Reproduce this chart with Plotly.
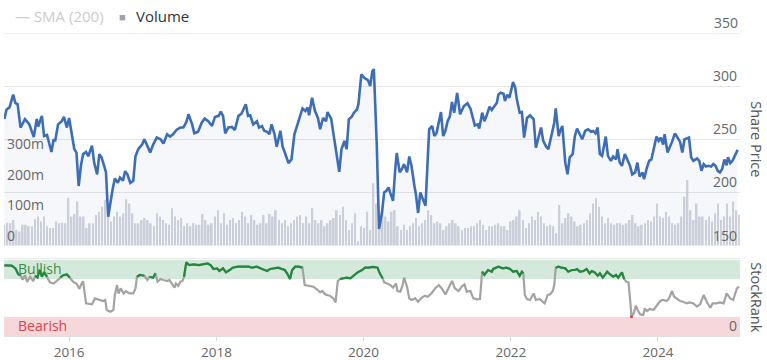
import numpy as np
import pandas as pd
import plotly.graph_objects as go

# ---------------- data ----------------
price_t = [2015.12, 2015.15, 2015.19, 2015.24, 2015.27, 2015.30, 2015.34, 2015.40, 2015.46, 2015.49,
           2015.52, 2015.56, 2015.58, 2015.63, 2015.66, 2015.70, 2015.72, 2015.76, 2015.79, 2015.81,
           2015.85, 2015.90, 2015.93, 2015.97, 2016.00, 2016.04, 2016.07, 2016.10, 2016.13, 2016.16,
           2016.19, 2016.23, 2016.26, 2016.31, 2016.34, 2016.38, 2016.41, 2016.44, 2016.48, 2016.50,
           2016.53, 2016.56, 2016.59, 2016.62, 2016.66, 2016.69, 2016.73, 2016.76, 2016.79, 2016.83,
           2016.87, 2016.90, 2016.94, 2016.99, 2017.02, 2017.06, 2017.10, 2017.14, 2017.19, 2017.24,
           2017.28, 2017.33, 2017.37, 2017.41, 2017.46, 2017.51, 2017.55, 2017.59, 2017.62, 2017.67,
           2017.70, 2017.75, 2017.80, 2017.84, 2017.89, 2017.94, 2017.98, 2018.03, 2018.06, 2018.09,
           2018.12, 2018.16, 2018.21, 2018.25, 2018.30, 2018.34, 2018.37, 2018.40, 2018.43, 2018.46,
           2018.50, 2018.55, 2018.58, 2018.62, 2018.65, 2018.69, 2018.72, 2018.75, 2018.79, 2018.82,
           2018.87, 2018.90, 2018.93, 2018.98, 2019.02, 2019.06, 2019.11, 2019.17, 2019.21, 2019.24,
           2019.26, 2019.30, 2019.34, 2019.38, 2019.41, 2019.45, 2019.49, 2019.51, 2019.56, 2019.60,
           2019.64, 2019.67, 2019.70, 2019.74, 2019.77, 2019.80, 2019.84, 2019.87, 2019.91, 2019.93,
           2019.97, 2020.01, 2020.06, 2020.09, 2020.12, 2020.14, 2020.18, 2020.21, 2020.25, 2020.28,
           2020.31, 2020.34, 2020.36, 2020.40, 2020.43, 2020.45, 2020.49, 2020.52, 2020.55, 2020.59,
           2020.62, 2020.65, 2020.69, 2020.71, 2020.74, 2020.77, 2020.80, 2020.84, 2020.87, 2020.89,
           2020.93, 2020.96, 2020.99, 2021.02, 2021.05, 2021.08, 2021.11, 2021.14, 2021.17, 2021.20,
           2021.23, 2021.27, 2021.31, 2021.36, 2021.41, 2021.45, 2021.48, 2021.51, 2021.55, 2021.57,
           2021.61, 2021.64, 2021.67, 2021.71, 2021.74, 2021.77, 2021.81, 2021.83, 2021.86, 2021.90,
           2021.92, 2021.95, 2021.98, 2022.03, 2022.06, 2022.08, 2022.12, 2022.15, 2022.18, 2022.22,
           2022.26, 2022.31, 2022.34, 2022.37, 2022.41, 2022.44, 2022.48, 2022.51, 2022.56, 2022.59,
           2022.61, 2022.65, 2022.67, 2022.70, 2022.74, 2022.77, 2022.80, 2022.84, 2022.87, 2022.90,
           2022.93, 2022.97, 2023.01, 2023.05, 2023.09, 2023.12, 2023.15, 2023.18, 2023.21, 2023.24,
           2023.27, 2023.29, 2023.32, 2023.36, 2023.39, 2023.43, 2023.45, 2023.48, 2023.51, 2023.55,
           2023.59, 2023.62, 2023.65, 2023.69, 2023.72, 2023.75, 2023.79, 2023.81, 2023.85, 2023.88,
           2023.91, 2023.95, 2023.98, 2024.01, 2024.04, 2024.07, 2024.09, 2024.13, 2024.16, 2024.19,
           2024.23, 2024.27, 2024.30, 2024.33, 2024.36, 2024.39, 2024.42, 2024.45, 2024.48, 2024.53,
           2024.56, 2024.59, 2024.62, 2024.65, 2024.68, 2024.72, 2024.75, 2024.78, 2024.81, 2024.84,
           2024.87, 2024.90, 2024.93, 2024.95, 2024.98, 2025.01, 2025.05, 2025.08]
price = [269, 278, 280, 292, 284, 283, 261, 269, 264, 258,
         252, 269, 262, 272, 253, 254, 248, 238, 250, 248,
         264, 267, 271, 261, 270, 253, 241, 237.5, 206, 225,
         236, 238, 234, 244, 228, 217, 236, 233, 222, 219,
         177, 191, 203, 213, 209, 214, 211, 220, 217, 209,
         211, 234, 241, 245, 250, 244, 237.5, 245, 251.6, 250,
         246, 254.7, 252.5, 254.7, 259, 261, 261, 266, 273.5, 264,
         255.6, 257, 265.6, 269.4, 267, 262.5, 271, 272, 276, 272,
         255.6, 261, 261.6, 258.7, 272, 274, 278, 283, 272, 272.5,
         264, 267, 261, 262.5, 258, 257, 254.7, 264, 254.7, 243,
         258, 243, 237.5, 227.5, 231, 254.7, 265.6, 279, 276.6, 280,
         272.5, 289, 276.6, 270, 259.4, 270, 267, 275.6, 269.4, 250,
         229.7, 219.3, 240.6, 248.4, 240.6, 268.8, 271.3, 275, 278, 282.8,
         311, 307.8, 305.6, 300, 314, 316, 244, 165.6, 181, 200,
         201.5, 204.7, 200, 192, 222, 237, 218.8, 222, 226.6, 218.8,
         233.8, 225, 206, 198.4, 180.6, 200, 194.4, 187.5, 231, 259.4,
         262.5, 253, 256, 267, 275.6, 253, 258, 267, 271.3, 285,
         275, 293.7, 273.5, 281, 283.8, 279, 272, 263, 264, 260,
         275, 267, 272, 280.7, 277.5, 281, 284.4, 292, 293.7, 292.8,
         286, 292, 289, 303.8, 298.5, 288, 275, 275.6, 251.6, 270,
         272.5, 268.8, 242, 250, 261, 248.4, 243, 240.6, 256, 265.6,
         279, 253, 257.8, 262.5, 228, 217, 233, 236, 253, 260,
         255.6, 250, 257.8, 259.4, 257, 257.8, 255.6, 261, 236, 234.4,
         245, 252.5, 234.4, 229.7, 233.8, 231, 240.6, 228, 225, 236,
         229.7, 225, 217, 218.8, 228, 215, 218.8, 212.5, 223.4, 229.7,
         231, 245, 252.5, 248.4, 251.6, 245, 254.7, 237.5, 242, 247.5,
         255.6, 250.6, 247.5, 237.5, 250, 250.6, 251.6, 233, 229.7, 232,
         229.7, 220.3, 226.6, 224.4, 225, 224.4, 226.6, 225, 220.3, 218.8,
         222, 231, 225.6, 233, 227.5, 229.7, 236, 240]

rank_t = [2015.12, 2015.22, 2015.27, 2015.31, 2015.34, 2015.37, 2015.40, 2015.43, 2015.47, 2015.51,
          2015.54, 2015.57, 2015.60, 2015.63, 2015.66, 2015.70, 2015.74, 2015.79, 2015.83, 2015.88,
          2015.92, 2015.97, 2016.01, 2016.06, 2016.10, 2016.14, 2016.17, 2016.19, 2016.23, 2016.28,
          2016.31, 2016.35, 2016.41, 2016.46, 2016.49, 2016.51, 2016.56, 2016.60, 2016.62, 2016.65,
          2016.67, 2016.70, 2016.74, 2016.77, 2016.82, 2016.87, 2016.90, 2016.92, 2016.96, 2017.02,
          2017.06, 2017.09, 2017.14, 2017.17, 2017.20, 2017.24, 2017.28, 2017.33, 2017.36, 2017.39,
          2017.43, 2017.45, 2017.48, 2017.51, 2017.54, 2017.56, 2017.59, 2017.63, 2017.69, 2017.76,
          2017.82, 2017.88, 2017.92, 2017.96, 2018.01, 2018.04, 2018.09, 2018.13, 2018.18, 2018.22,
          2018.29, 2018.37, 2018.44, 2018.48, 2018.55, 2018.62, 2018.69, 2018.73, 2018.80, 2018.84,
          2018.89, 2018.93, 2018.97, 2019.00, 2019.03, 2019.07, 2019.12, 2019.17, 2019.20, 2019.25,
          2019.32, 2019.36, 2019.41, 2019.44, 2019.48, 2019.54, 2019.59, 2019.62, 2019.65, 2019.68,
          2019.73, 2019.77, 2019.82, 2019.86, 2019.92, 2019.98, 2020.02, 2020.07, 2020.13, 2020.19,
          2020.22, 2020.26, 2020.28, 2020.32, 2020.36, 2020.40, 2020.44, 2020.46, 2020.50, 2020.53,
          2020.55, 2020.59, 2020.62, 2020.65, 2020.70, 2020.74, 2020.78, 2020.83, 2020.87, 2020.92,
          2020.97, 2021.02, 2021.06, 2021.11, 2021.15, 2021.20, 2021.24, 2021.29, 2021.33, 2021.37,
          2021.40, 2021.45, 2021.49, 2021.54, 2021.58, 2021.61, 2021.64, 2021.69, 2021.74, 2021.76,
          2021.83, 2021.89, 2021.94, 2021.99, 2022.03, 2022.08, 2022.12, 2022.15, 2022.17, 2022.19,
          2022.22, 2022.26, 2022.31, 2022.34, 2022.39, 2022.43, 2022.46, 2022.50, 2022.53, 2022.57,
          2022.59, 2022.61, 2022.65, 2022.69, 2022.74, 2022.78, 2022.83, 2022.87, 2022.90, 2022.94,
          2022.99, 2023.03, 2023.07, 2023.10, 2023.14, 2023.18, 2023.21, 2023.25, 2023.28, 2023.31,
          2023.35, 2023.39, 2023.43, 2023.46, 2023.51, 2023.54, 2023.57, 2023.60, 2023.62, 2023.64,
          2023.67, 2023.70, 2023.73, 2023.76, 2023.80, 2023.82, 2023.85, 2023.89, 2023.94, 2023.98,
          2024.03, 2024.07, 2024.12, 2024.15, 2024.19, 2024.22, 2024.25, 2024.30, 2024.34, 2024.39,
          2024.43, 2024.48, 2024.53, 2024.57, 2024.62, 2024.66, 2024.71, 2024.74, 2024.79, 2024.84,
          2024.89, 2024.93, 2024.98, 2025.02, 2025.07, 2025.10]
rank = [93, 92.5, 89, 81, 80, 74, 80, 71, 78, 72,
        79, 77, 87, 78, 84, 78, 70.5, 69, 72, 77,
        80, 81, 77, 71, 69, 62, 69, 72, 43, 41.6,
        41.6, 49.5, 47.4, 46, 47.4, 34.2, 32, 34.2, 54, 67,
        56, 62.6, 56, 59, 56, 56, 62.6, 78, 80.3, 79.3,
        73.7, 78, 76.7, 82.4, 71.4, 75, 73.7, 72.4, 73.7, 69,
        63.6, 69, 66, 71.4, 72.4, 78, 96.8, 93.4, 94.2, 93.4,
        94.2, 95.5, 93.4, 88.2, 89, 85.5, 89, 83.7, 86.8, 89.9,
        91.2, 91.2, 91.2, 89.9, 91.2, 88.2, 85.5, 88.2, 89, 89.9,
        88.2, 86.8, 81, 75, 86.8, 91.2, 91.2, 89.9, 67.1, 66.2,
        64.9, 61.8, 57.4, 59.2, 54.7, 53, 49.5, 44.2, 72.4, 75,
        75.8, 76.7, 75.8, 79.3, 83.7, 86.8, 89.9, 89.9, 90.8, 89.9,
        82.4, 75.8, 70.5, 69.2, 67.1, 63.6, 69.2, 59.2, 58.3, 67.1,
        76.7, 64.9, 49.5, 47.4, 49.5, 45.1, 49.5, 53, 51.7, 56,
        62.6, 67.1, 62.6, 54.7, 63.6, 72.4, 62.6, 59.2, 64.9, 67.9,
        58.3, 59.2, 49.5, 48.2, 48.7, 84.6, 80.3, 86.8, 84.6, 88.2,
        91.2, 89, 89.9, 88.2, 84.6, 85.5, 79.3, 84.6, 82.4, 54,
        48.7, 47.4, 56, 47.4, 48.7, 46, 42.9, 54, 54.7, 59.2,
        67.1, 89.9, 91.2, 89.9, 89, 84.6, 86.8, 86.8, 88.2, 84.6,
        85.5, 88.2, 82.4, 85.5, 83.7, 79.3, 82.4, 76.7, 81, 84.6,
        81, 78, 80.3, 76.7, 83.7, 75, 71.4, 70.5, 49.5, 25.4,
        29.7, 39.9, 32.9, 28.4, 27.6, 36.3, 32.9, 35.5, 34.2, 39.9,
        46, 47.4, 46, 49.5, 59.2, 51.7, 49.5, 46, 45.1, 42.9,
        44.2, 42.9, 38.6, 41.6, 54, 45.1, 37.2, 42.9, 42.9, 44.2,
        42.9, 56, 49.5, 47.4, 62.6, 64.9]

# volume in millions, evenly spaced samples over the period
volume_m = [68, 75, 73, 84, 51, 46, 68, 68, 64, 63, 86, 95, 79, 95, 63, 57, 57, 79, 73, 75,
            73, 157, 95, 103, 144, 95, 95, 57, 73, 73, 100, 111, 127, 150, 100, 79, 95, 111, 95, 106,
            152, 138, 106, 73, 73, 84, 90, 84, 73, 63, 106, 95, 84, 73, 68, 122, 95, 84,
            90, 63, 73, 63, 73, 68, 68, 103, 84, 68, 73, 95, 116, 73, 106, 68, 84, 90, 73, 84,
            111, 95, 73, 100, 84, 68, 73, 100, 73, 103, 95, 116, 84, 73, 84, 63, 73, 84, 95, 100,
            73, 95, 73, 122, 84, 73, 84, 63, 73, 84, 90, 116, 100, 127, 84, 51, 73, 106, 13, 63, 57,
            111, 51, 204, 138, 95, 116, 95, 79, 111, 116, 63, 51, 68, 51, 63, 73, 90, 63, 73, 84,
            116, 100, 73, 79, 73, 51, 63, 73, 84, 73, 63, 51, 57, 57, 63, 63, 73, 84, 68, 51,
            63, 63, 68, 73, 63, 63, 51, 79, 84, 95, 116, 84, 57, 73, 95, 84, 111, 95, 73, 63, 68,
            63, 40, 133, 73, 90, 106, 95, 79, 63, 68, 73, 84, 106, 138, 155, 127, 95, 73, 90, 73,
            68, 73, 73, 68, 73, 84, 100, 73, 63, 68, 73, 84, 79, 95, 138, 95, 90, 111, 95, 73,
            68, 73, 95, 160, 215, 116, 84, 138, 95, 95, 84, 95, 79, 106, 138, 84, 95, 138, 95, 144,
            116, 100]
volume_start, volume_end = "2015-02-14", "2025-02-08"

x_range = ["2015-02-12", "2025-02-11"]
x_ticks = ["2016-01-01", "2018-01-01", "2020-01-01", "2022-01-01", "2024-01-01"]
x_ticktext = ["2016", "2018", "2020", "2022", "2024"]
price_range = [150, 350]
price_ticks = [150, 200, 250, 300, 350]
volume_ticks = [0, 100, 200, 300]
volume_ticktext = ["0", "100m", "200m", "300m"]
bull_level, bear_level = 75, 25


def to_date(y):
    yi = int(np.floor(y))
    a = pd.Timestamp(year=yi, month=1, day=1)
    b = pd.Timestamp(year=yi + 1, month=1, day=1)
    return a + (b - a) * (y - yi)


price_dates = [to_date(v) for v in price_t]
rank_dates = [to_date(v) for v in rank_t]
vol_dates = pd.date_range(volume_start, volume_end, periods=len(volume_m))

rank_green = [r if r >= bull_level else None for r in rank]
rank_red = [r if r <= bear_level + 1 else None for r in rank]

FONT = "Open Sans"
LBL = "#666666"
GRID = "#e6e6e6"

fig = go.Figure()

fig.add_trace(go.Bar(x=vol_dates, y=volume_m, xaxis="x", yaxis="y",
                     marker=dict(color="#d3d5db", line=dict(width=0)),
                     hoverinfo="skip", showlegend=False))
fig.add_trace(go.Scatter(x=price_dates, y=price, xaxis="x", yaxis="y2", mode="lines",
                         line=dict(color="#3d6db5", width=2.6), fill="tozeroy",
                         fillcolor="rgba(69,114,180,0.055)", showlegend=False))
fig.add_trace(go.Scatter(x=rank_dates, y=rank, xaxis="x2", yaxis="y3", mode="lines",
                         line=dict(color="#a3a3a3", width=2.2), showlegend=False))
fig.add_trace(go.Scatter(x=rank_dates, y=rank_green, xaxis="x2", yaxis="y3", mode="lines",
                         line=dict(color="#1f8a3b", width=2.2), connectgaps=False, showlegend=False))
fig.add_trace(go.Scatter(x=rank_dates, y=rank_red, xaxis="x2", yaxis="y3", mode="markers",
                         marker=dict(color="#d9434e", size=3), showlegend=False))

top_dom = [0.2987, 1.0]
bot_dom = [0.0, 0.2551]

fig.update_layout(
    width=767, height=360,
    margin=dict(l=4, r=27, t=33, b=24, autoexpand=False),
    paper_bgcolor="white", plot_bgcolor="white",
    font=dict(family=FONT, size=14, color=LBL),
    bargap=0.45,
    xaxis=dict(domain=[0, 1], anchor="y", type="date", range=x_range, automargin=False,
               showticklabels=False, showgrid=False, zeroline=False, ticks=""),
    yaxis=dict(domain=top_dom, anchor="x", side="left", range=[0, 697], automargin=False,
               tickvals=volume_ticks, ticktext=volume_ticktext,
               ticklabelposition="inside top", showgrid=False, zeroline=False,
               tickfont=dict(size=14, color=LBL)),
    yaxis2=dict(domain=top_dom, anchor="x", overlaying="y", side="right", range=price_range,
                tickvals=price_ticks, ticklabelposition="inside top", automargin=False,
                showgrid=True, gridcolor=GRID, gridwidth=1, zeroline=False,
                tickfont=dict(size=14, color=LBL)),
    xaxis2=dict(domain=[0, 1], anchor="y3", type="date", range=x_range, automargin=False,
                tickvals=x_ticks, ticktext=x_ticktext, ticks="outside", ticklen=4,
                tickcolor="#d8d8d8", showgrid=False, zeroline=False,
                showline=True, linecolor="#e0e0e0",
                tickfont=dict(size=13.5, color=LBL)),
    yaxis3=dict(domain=bot_dom, anchor="x2", side="right", range=[0, 101.7], automargin=False,
                tickvals=[0], ticklabelposition="inside top", showgrid=False,
                zeroline=False, tickfont=dict(size=14, color=LBL)),
)

# edge gridlines of the price panel (top 350 and bottom 150)
for lvl in (price_range[0], price_range[1]):
    fig.add_shape(type="line", xref="x domain", yref="y2", x0=0, x1=1, y0=lvl, y1=lvl,
                  line=dict(color=GRID, width=1), layer="below")
fig.add_annotation(text=str(price_range[1]), xref="paper", yref="y2", x=1, y=price_range[1],
                   xanchor="right", yanchor="bottom", yshift=-1, showarrow=False,
                   font=dict(family=FONT, size=14, color=LBL))

# StockRank bands
fig.add_shape(type="rect", xref="x2 domain", yref="y3", x0=0, x1=1, y0=bull_level, y1=100,
              fillcolor="#d4e9dc", line=dict(width=0), layer="below",
              label=dict(text="Bullish", textposition="middle left", padding=11,
                         font=dict(family=FONT, size=14, color="#3a8d3f")))
fig.add_shape(type="rect", xref="x2 domain", yref="y3", x0=0, x1=1, y0=0, y1=bear_level,
              fillcolor="#f6d7da", line=dict(width=0), layer="below",
              label=dict(text="Bearish", textposition="middle left", padding=11,
                         font=dict(family=FONT, size=14, color="#d9434e")))
fig.add_shape(type="line", xref="x2 domain", yref="y3 domain", x0=0, x1=1, y0=1, y1=1,
              line=dict(color=GRID, width=1), layer="below")

# axis titles (read top to bottom)
fig.add_annotation(text="Share Price", xref="paper", yref="y2 domain", x=1.0, y=0.5,
                   xanchor="center", yanchor="middle", xshift=17, textangle=90,
                   showarrow=False, font=dict(family=FONT, size=14.5, color="#555555"))
fig.add_annotation(text="StockRank", xref="paper", yref="y3 domain", x=1.0, y=0.5,
                   xanchor="center", yanchor="middle", xshift=17, textangle=90,
                   showarrow=False, font=dict(family=FONT, size=14.5, color="#555555"))

# legend
fig.add_annotation(text="— SMA (200)", xref="paper", yref="paper", x=(13 - 4) / 736, y=1.056,
                   xanchor="left", yanchor="middle", showarrow=False,
                   font=dict(family=FONT, size=15, color="#cccccc"))
fig.add_annotation(text="■", xref="paper", yref="paper", x=(117 - 4) / 736, y=1.053,
                   xanchor="left", yanchor="middle", showarrow=False,
                   font=dict(family=FONT, size=11, color="#a0a0a8"))
fig.add_annotation(text="Volume", xref="paper", yref="paper", x=(134 - 4) / 736, y=1.056,
                   xanchor="left", yanchor="middle", showarrow=False,
                   font=dict(family=FONT, size=15, color="#333333"))

fig.write_html("out.html", config={"displayModeBar": False},
               post_script="document.body.style.margin='0';")
